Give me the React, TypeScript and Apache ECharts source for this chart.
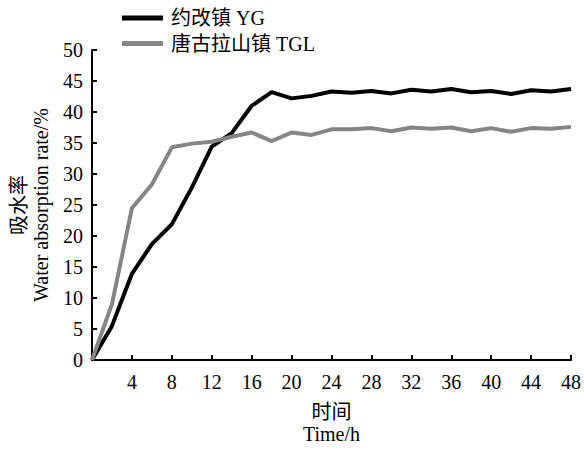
import React, { useEffect, useRef } from "react";
import * as echarts from "echarts";

const hours = [0, 2, 4, 6, 8, 10, 12, 14, 16, 18, 20, 22, 24, 26, 28, 30, 32, 34, 36, 38, 40, 42, 44, 46, 48];
const ygValues = [0, 5.5, 13.9, 18.7, 21.9, 27.8, 34.4, 36.6, 41.0, 43.2, 42.2, 42.6, 43.3, 43.1, 43.4, 43.0, 43.6, 43.3, 43.7, 43.2, 43.4, 42.9, 43.5, 43.3, 43.7];
const tglValues = [0, 9.0, 24.5, 28.3, 34.3, 34.9, 35.2, 36.0, 36.7, 35.3, 36.7, 36.3, 37.2, 37.2, 37.4, 36.9, 37.5, 37.3, 37.5, 36.9, 37.4, 36.8, 37.4, 37.3, 37.6];
const seriesNames = ["约改镇 YG", "唐古拉山镇 TGL"];
const seriesColors = ["#000000", "#858585"];
const xAxisName = "时间\nTime/h";
const yAxisName = "吸水率\nWater absorption rate/%";

const FONT = "'Liberation Serif', 'Times New Roman', 'Noto Sans CJK SC', serif";

export default function App() {
  const ref = useRef<HTMLDivElement>(null);
  useEffect(() => {
    if (!ref.current) return;
    const chart = echarts.init(ref.current, undefined, { renderer: "svg" });
    const mk = (vals: number[]) => hours.map((h, i) => [h, vals[i]]);
    chart.setOption({
      animation: false,
      backgroundColor: "#ffffff",
      textStyle: { fontFamily: FONT },
      grid: { left: 92, right: 13, top: 50, bottom: 86, containLabel: false },
      legend: {
        orient: "vertical",
        left: 117,
        top: 3,
        icon: "rect",
        itemWidth: 41,
        itemHeight: 5,
        itemGap: 5.6,
        data: seriesNames,
        textStyle: { fontFamily: FONT, fontSize: 20, color: "#000", lineHeight: 20, padding: [0, 0, 0, 3] },
      },
      xAxis: {
        type: "value",
        min: 0,
        max: 48,
        interval: 4,
        name: xAxisName,
        nameLocation: "middle",
        nameGap: 41,
        nameTextStyle: { fontFamily: FONT, fontSize: 20, color: "#000", lineHeight: 22 },
        axisLine: { lineStyle: { color: "#000", width: 2 } },
        axisTick: { inside: true, length: 5, lineStyle: { color: "#000", width: 2 } },
        axisLabel: {
          fontFamily: FONT,
          fontSize: 20,
          color: "#000",
          margin: 12,
          formatter: (v: number) => (v === 0 ? "" : String(v)),
        },
        splitLine: { show: false },
      },
      yAxis: {
        type: "value",
        min: 0,
        max: 50,
        interval: 5,
        name: yAxisName,
        nameLocation: "middle",
        nameGap: 39,
        nameTextStyle: { fontFamily: FONT, fontSize: 20, color: "#000", lineHeight: 22 },
        axisLine: { show: true, lineStyle: { color: "#000", width: 2 } },
        axisTick: { show: true, inside: true, length: 5, lineStyle: { color: "#000", width: 2 } },
        axisLabel: { fontFamily: FONT, fontSize: 20, color: "#000", margin: 9 },
        splitLine: { show: false },
      },
      series: [
        {
          name: seriesNames[0],
          type: "line",
          data: mk(ygValues),
          symbol: "none",
          lineStyle: { color: seriesColors[0], width: 4 },
          itemStyle: { color: seriesColors[0] },
        },
        {
          name: seriesNames[1],
          type: "line",
          data: mk(tglValues),
          symbol: "none",
          lineStyle: { color: seriesColors[1], width: 4 },
          itemStyle: { color: seriesColors[1] },
        },
      ],
    });
    return () => chart.dispose();
  }, []);
  return <div ref={ref} style={{ position: "fixed", left: 0, top: 0, width: 584, height: 450 }} />;
}
